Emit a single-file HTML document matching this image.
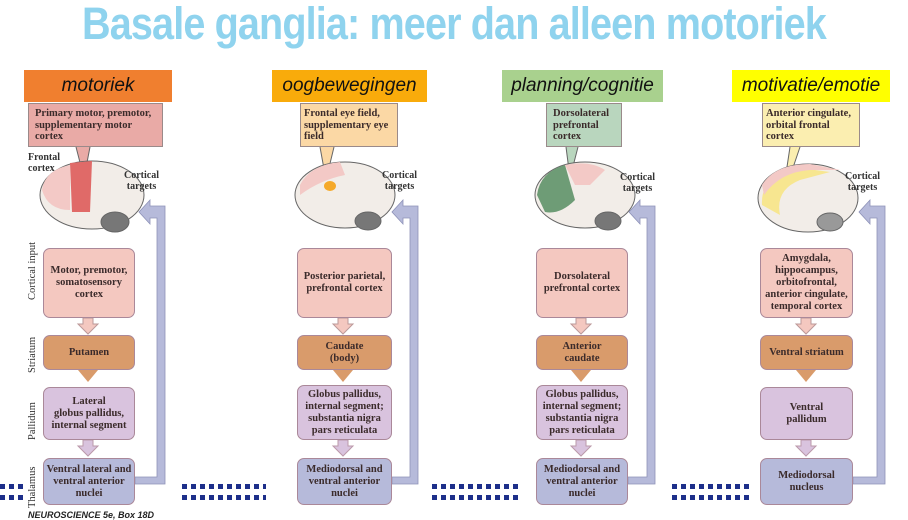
<!DOCTYPE html>
<html><head><meta charset="utf-8"><style>
body{margin:0;width:908px;height:520px;background:#fff;position:relative;overflow:hidden;font-family:"Liberation Serif",serif}
.a{position:absolute}
.title{left:0;top:-2px;width:908px;text-align:center;font-family:"Liberation Sans",sans-serif;font-weight:bold;font-size:45px;color:#8fd3ee;letter-spacing:-1px;transform:scaleX(0.88);white-space:nowrap}
.hd{position:absolute;font-family:"Liberation Sans",sans-serif;font-style:italic;font-size:19px;text-align:center;line-height:32px;height:32px;color:#111}
.lb{position:absolute;font-weight:bold;font-size:10.5px;line-height:11.5px;color:#3b2b2b;border:1px solid #9a8a8a;padding:4px 6px;box-sizing:border-box}
.bx{position:absolute;border-radius:7px;border:1px solid #a89;box-sizing:border-box;display:flex;align-items:center;justify-content:center;text-align:center;font-weight:bold;font-size:10.5px;line-height:12px;color:#3b2b2b}
.ci{background:#f4c8c0}.st{background:#d99b6b}.pa{background:#d9c3de}.th{background:#b6bada}
.side{position:absolute;font-size:10.5px;color:#333;transform:rotate(-90deg);transform-origin:left top;white-space:nowrap}
.sm{position:absolute;font-weight:bold;font-size:10px;line-height:11px;color:#333;text-align:center}
.dots{position:absolute;height:16px;background:
 repeating-linear-gradient(90deg,#1d2f8a 0 5px,transparent 5px 9px);
 -webkit-mask:linear-gradient(#000 0 5px,transparent 5px 11px,#000 11px 16px);}
</style></head><body>
<div class="a title">Basale ganglia: meer dan alleen motoriek</div>

<div class="hd" style="left:24px;top:70px;width:148px;background:#f07f2f">motoriek</div>
<div class="hd" style="left:272px;top:70px;width:155px;background:#f9ab0b">oogbewegingen</div>
<div class="hd" style="left:502px;top:70px;width:161px;background:#a9d18e">planning/cognitie</div>
<div class="hd" style="left:732px;top:70px;width:158px;background:#ffff00">motivatie/emotie</div>

<div class="lb" style="left:28px;top:103px;width:135px;height:44px;background:#e9aaa6">Primary motor, premotor, supplementary motor cortex</div>
<div class="lb" style="left:300px;top:103px;width:98px;height:44px;background:#fbd8a5;padding:4px 3px">Frontal eye field, supplementary eye field</div>
<div class="lb" style="left:546px;top:103px;width:76px;height:44px;background:#b9d6be">Dorsolateral prefrontal cortex</div>
<div class="lb" style="left:762px;top:103px;width:98px;height:44px;background:#fbeeb0;padding:4px 3px;white-space:nowrap">Anterior cingulate,<br>orbital frontal<br>cortex</div>

<svg class="a" style="left:0;top:0" width="908" height="520">
 <g stroke="#666" stroke-width="1" fill="#f2ede8">
  <path d="M76 147 L84 178 L90 147" fill="#e9aaa6"/>
  <path d="M320 147 L326 180 L334 147" fill="#fbd8a5"/>
  <path d="M566 147 L570 178 L578 147" fill="#b9d6be"/>
  <path d="M790 147 L782 200 L800 147" fill="#fbeeb0"/>
  <ellipse cx="92" cy="195" rx="52" ry="34"/>
  <ellipse cx="115" cy="222" rx="14" ry="10" fill="#777"/>
  <ellipse cx="345" cy="195" rx="50" ry="33"/>
  <ellipse cx="368" cy="221" rx="13" ry="9" fill="#777"/>
  <ellipse cx="585" cy="195" rx="50" ry="33"/>
  <ellipse cx="608" cy="221" rx="13" ry="9" fill="#777"/>
  <ellipse cx="808" cy="198" rx="50" ry="34"/>
  <ellipse cx="830" cy="222" rx="13" ry="9" fill="#999"/>
 </g>
 <path d="M42 190 Q45 170 70 165 L70 210 Q48 210 42 190Z" fill="#f3c9c6"/>
 <path d="M70 163 L92 161 L90 212 L72 212Z" fill="#e06a68"/>
 <path d="M300 185 Q310 165 340 162 L345 175 Q320 180 300 195Z" fill="#f3c9c6"/>
 <ellipse cx="330" cy="186" rx="6" ry="5" fill="#f5a92a"/>
 <path d="M537 195 Q540 172 565 165 L575 200 Q560 215 545 212Z" fill="#6e9c76"/>
 <path d="M565 165 Q590 160 605 170 L590 185 L575 185Z" fill="#f3c9c6"/>
 <path d="M762 205 Q760 175 800 168 L830 172 L800 180 Q775 190 780 215Z" fill="#f7e690"/>
 <path d="M762 185 Q775 164 810 164 L840 170 L810 170 Q780 172 764 195Z" fill="#f3c9c6"/>
 <g fill="#f4c8c0" stroke="#b99">
  <path d="M83 318 h10 v6 h5 l-10 10 l-10 -10 h5z"/>
  <path d="M338 318 h10 v6 h5 l-10 10 l-10 -10 h5z"/>
  <path d="M576 318 h10 v6 h5 l-10 10 l-10 -10 h5z"/>
  <path d="M801 318 h10 v6 h5 l-10 10 l-10 -10 h5z"/>
 </g>
 <g fill="#d99b6b">
  <path d="M78 370 h20 l-10 12z"/><path d="M333 370 h20 l-10 12z"/><path d="M571 370 h20 l-10 12z"/><path d="M796 370 h20 l-10 12z"/>
 </g>
 <g fill="#d9c3de" stroke="#b9a">
  <path d="M83 440 h10 v6 h5 l-10 10 l-10 -10 h5z"/>
  <path d="M338 440 h10 v6 h5 l-10 10 l-10 -10 h5z"/>
  <path d="M576 440 h10 v6 h5 l-10 10 l-10 -10 h5z"/>
  <path d="M801 440 h10 v6 h5 l-10 10 l-10 -10 h5z"/>
 </g>
 <g fill="#b6bada" stroke="#8e92b8" stroke-width="0.8">
  <path d="M135 477 h22 V218 h-7 v6 l-11 -12 l11 -12 v6 h15 V484 h-30z"/>
  <path d="M392 477 h18 V218 h-7 v6 l-11 -12 l11 -12 v6 h15 V484 h-26z"/>
  <path d="M628 477 h19 V218 h-7 v6 l-11 -12 l11 -12 v6 h15 V484 h-27z"/>
  <path d="M853 477 h24 V218 h-7 v6 l-11 -12 l11 -12 v6 h15 V484 h-32z"/>
 </g>
</svg>

<div class="sm" style="left:28px;top:152px;text-align:left">Frontal<br>cortex</div>
<div class="sm" style="left:124px;top:170px">Cortical<br>targets</div>
<div class="sm" style="left:382px;top:170px">Cortical<br>targets</div>
<div class="sm" style="left:620px;top:172px">Cortical<br>targets</div>
<div class="sm" style="left:845px;top:171px">Cortical<br>targets</div>

<div class="side" style="left:27px;top:300px">Cortical input</div>
<div class="side" style="left:27px;top:373px">Striatum</div>
<div class="side" style="left:27px;top:440px">Pallidum</div>
<div class="side" style="left:27px;top:508px">Thalamus</div>

<div class="bx ci" style="left:43px;top:248px;width:92px;height:70px">Motor, premotor, somatosensory cortex</div>
<div class="bx st" style="left:43px;top:335px;width:92px;height:35px">Putamen</div>
<div class="bx pa" style="left:43px;top:387px;width:92px;height:53px">Lateral<br>globus pallidus, internal segment</div>
<div class="bx th" style="left:43px;top:458px;width:92px;height:47px">Ventral lateral and ventral anterior nuclei</div>
<div class="bx ci" style="left:297px;top:248px;width:95px;height:70px">Posterior parietal, prefrontal cortex</div>
<div class="bx st" style="left:297px;top:335px;width:95px;height:35px">Caudate<br>(body)</div>
<div class="bx pa" style="left:297px;top:385px;width:95px;height:55px">Globus pallidus, internal segment; substantia nigra pars reticulata</div>
<div class="bx th" style="left:297px;top:458px;width:95px;height:47px">Mediodorsal and ventral anterior nuclei</div>
<div class="bx ci" style="left:536px;top:248px;width:92px;height:70px">Dorsolateral prefrontal cortex</div>
<div class="bx st" style="left:536px;top:335px;width:92px;height:35px">Anterior<br>caudate</div>
<div class="bx pa" style="left:536px;top:385px;width:92px;height:55px">Globus pallidus, internal segment; substantia nigra pars reticulata</div>
<div class="bx th" style="left:536px;top:458px;width:92px;height:47px">Mediodorsal and ventral anterior nuclei</div>
<div class="bx ci" style="left:760px;top:248px;width:93px;height:70px">Amygdala, hippocampus, orbitofrontal, anterior cingulate, temporal cortex</div>
<div class="bx st" style="left:760px;top:335px;width:93px;height:35px">Ventral striatum</div>
<div class="bx pa" style="left:760px;top:387px;width:93px;height:53px">Ventral<br>pallidum</div>
<div class="bx th" style="left:760px;top:458px;width:93px;height:47px">Mediodorsal<br>nucleus</div>

<div class="dots" style="left:0;top:484px;width:23px"></div>
<div class="dots" style="left:182px;top:484px;width:84px"></div>
<div class="dots" style="left:432px;top:484px;width:90px"></div>
<div class="dots" style="left:672px;top:484px;width:80px"></div>
<div class="a" style="left:28px;top:510px;font-family:'Liberation Sans',sans-serif;font-style:italic;font-weight:bold;font-size:9px;color:#222">NEUROSCIENCE 5e, Box 18D</div>
</body></html>
